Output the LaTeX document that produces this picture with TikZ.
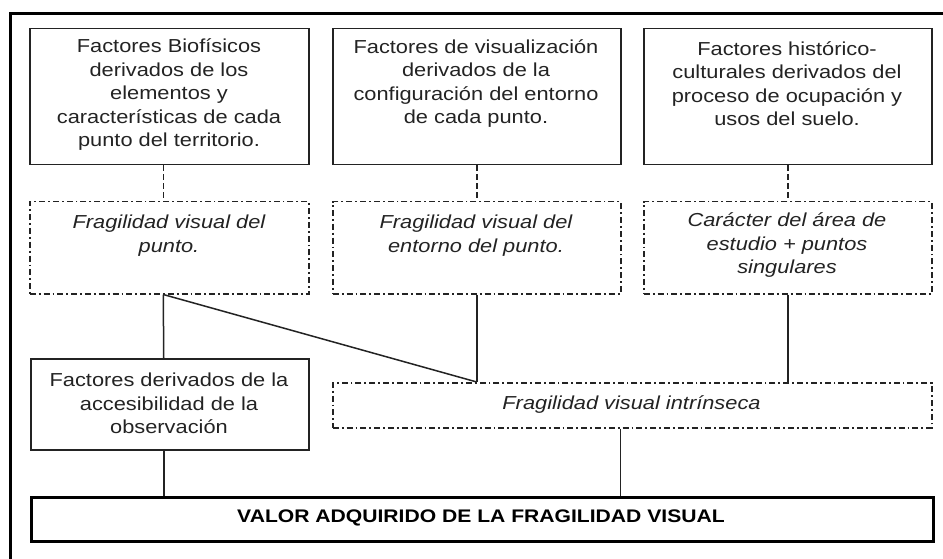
\documentclass[tikz,border=0pt]{standalone}
\usepackage{fontspec}
\setmainfont[FakeStretch=1.16]{Liberation Sans}
\usetikzlibrary{positioning}
\definecolor{ink}{RGB}{35,35,35}
\tikzset{
  base/.style={inner sep=0pt, anchor=north west, line width=1.5pt, draw=ink},
  solidbox/.style={base, draw},
  ddbox/.style={base, draw, dash pattern=on 6pt off 3pt on 1.8pt off 3pt},
  thickbox/.style={base, draw=black, line width=2.8pt},
  txt/.style={inner sep=0pt, align=center, text=ink, font=\fontsize{18.8}{23.5}\selectfont},
  itxt/.style={txt, font=\fontsize{18.8}{23.5}\selectfont\itshape},
  link/.style={line width=1.5pt, draw=ink},
  dlink/.style={link, dash pattern=on 5.5pt off 3.5pt},
}
\begin{document}
\begin{tikzpicture}[x=1pt,y=-1pt]
\useasboundingbox (0,0) rectangle (943,559);
\fill[white] (0,0) rectangle (943,559);
% outer frame (partly cropped)
\draw[line width=3pt, black] (10,570) -- (10,14) -- (950,14);

% top row
\node[solidbox, minimum width=279pt, minimum height=136pt] (b1) at (29,28) {};
\node[solidbox, minimum width=288pt, minimum height=136pt] (b2) at (332,28) {};
\node[solidbox, minimum width=288pt, minimum height=136pt] (b3) at (643,28) {};
\node[txt] (t1) at (169,95) {Factores Biofísicos\\derivados de los\\elementos y\\características de cada\\punto del territorio.};
\node[txt] (t2) at (476,83.5) {Factores de visualización\\derivados de la\\configuración del entorno\\de cada punto.};
\node[txt] (t3) at (787,83.5) {Factores histórico-\\culturales derivados del\\proceso de ocupación y\\usos del suelo.};

% second row
\node[ddbox, minimum width=279pt, minimum height=92pt] (f1) at (29,201) {};
\node[ddbox, minimum width=288pt, minimum height=92pt] (f2) at (332,201) {};
\node[ddbox, minimum width=288pt, minimum height=92pt] (f3) at (643,201) {};
\node[itxt] (u1) at (169,235.5) {Fragilidad visual del\\punto.};
\node[itxt] (u2) at (476,235.5) {Fragilidad visual del\\entorno del punto.};
\node[itxt] (u3) at (787,245.5) {Carácter del área de\\estudio + puntos\\singulares};

% third row
\node[solidbox, minimum width=278pt, minimum height=91pt] (ac) at (30,358) {};
\node[txt] (act) at (169,403.5) {Factores derivados de la\\accesibilidad de la\\observación};
\node[ddbox, minimum width=599pt, minimum height=45pt] (fi) at (332,382) {};
\node[itxt] (fit) at (631.5,404.5) {Fragilidad visual intrínseca};

% bottom
\node[thickbox, minimum width=902pt, minimum height=44pt] (val) at (30,496) {};
\node[txt, text=black, font=\fontsize{18.2}{22}\selectfont\bfseries] (valt) at (481,518) {VALOR ADQUIRIDO DE LA FRAGILIDAD VISUAL};

% dashed links
\draw[dlink] ([xshift=-6pt]b1.south) -- ([xshift=-6pt]f1.north);
\draw[dlink] (b2.south) -- (f2.north);
\draw[dlink] (b3.south) -- (f3.north);

% solid links
\draw[link] ([xshift=-6pt]f1.south) -- ([xshift=-6pt]ac.north);
\draw[link] ([xshift=-6pt]f1.south) -- (f2.south |- fi.north);
\draw[link] (f2.south) -- (f2.south |- fi.north);
\draw[link] (f3.south) -- (f3.south |- fi.north);
\draw[link] ([xshift=-6pt]ac.south) -- ([xshift=-6pt]ac.south |- val.north);
\draw[link] ([xshift=-12pt]fi.south) -- ([xshift=-12pt]fi.south |- val.north);
\end{tikzpicture}
\end{document}
